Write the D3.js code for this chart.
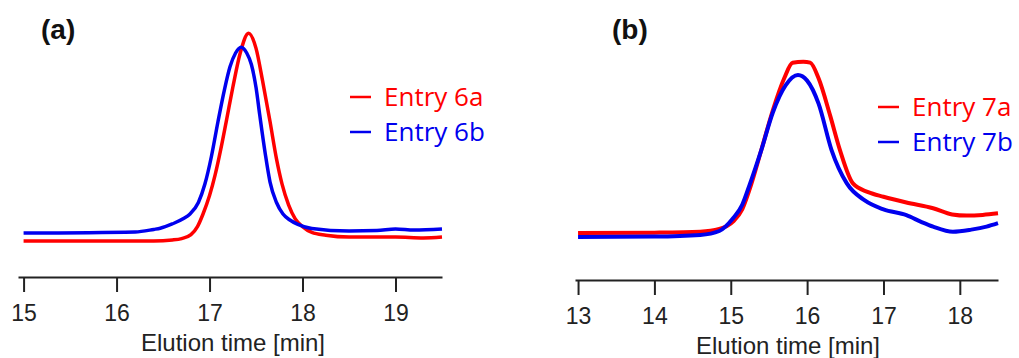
<!DOCTYPE html>
<html>
<head>
<meta charset="utf-8">
<script src="https://cdn.jsdelivr.net/npm/d3@7"></script>
<style>
  body { margin: 0; background: #fff; }
  .tick text { font-family: "Liberation Sans", Arial, sans-serif; }
</style>
</head>
<body>
<div class="chart"></div>
<script>
// elution traces, time [min] and detector signal (arbitrary units)
var t6a = [15.00, 16.40, 16.60, 16.70, 16.80, 16.87, 16.93, 17.00, 17.06, 17.12, 17.18, 17.25, 17.33, 17.42, 17.50, 17.57, 17.65, 17.72, 17.78, 17.85, 17.92, 18.00, 18.10, 18.25, 18.50, 19.00, 19.30, 19.50]
var v6a = [8.3, 8.3, 8.7, 9.3, 11.0, 14.5, 20.0, 28.0, 37.0, 48.0, 60.3, 75.0, 90.0, 98.6, 92.0, 78.0, 60.3, 44.0, 33.0, 24.0, 18.0, 14.5, 12.0, 10.8, 10.0, 10.0, 9.6, 10.0]

var t6b = [15.00, 16.20, 16.40, 16.47, 16.60, 16.72, 16.79, 16.88, 16.95, 17.02, 17.09, 17.16, 17.22, 17.28, 17.34, 17.40, 17.45, 17.50, 17.54, 17.60, 17.65, 17.72, 17.79, 17.86, 17.95, 18.10, 18.50, 18.80, 19.00, 19.20, 19.50]
var v6b = [11.7, 12.2, 13.3, 13.8, 15.7, 18.0, 20.0, 25.0, 33.0, 45.0, 60.0, 74.0, 84.0, 90.0, 92.5, 90.0, 85.0, 75.0, 63.0, 46.0, 34.0, 25.0, 20.0, 17.5, 15.5, 13.7, 12.6, 12.8, 13.5, 13.0, 13.5]

var t7a = [13.00, 14.00, 14.60, 14.85, 15.03, 15.15, 15.25, 15.40, 15.55, 15.70, 15.81, 15.95, 16.04, 16.15, 16.30, 16.43, 16.60, 16.80, 17.00, 17.30, 17.65, 17.90, 18.09, 18.30, 18.50]
var v7a = [11.7, 11.9, 12.3, 13.5, 16.7, 22.0, 31.0, 47.8, 65.0, 79.0, 85.8, 86.2, 85.8, 79.0, 63.0, 47.8, 33.3, 29.5, 27.5, 25.0, 22.5, 19.8, 19.3, 19.6, 20.3]

var t7b = [13.00, 14.00, 14.60, 14.85, 15.03, 15.15, 15.25, 15.40, 15.55, 15.72, 15.88, 16.00, 16.15, 16.32, 16.52, 16.75, 17.00, 17.30, 17.50, 17.65, 17.91, 18.15, 18.35, 18.50]
var v7b = [10.0, 10.2, 10.9, 12.6, 18.1, 24.0, 33.0, 47.8, 64.0, 76.0, 80.4, 78.0, 68.0, 47.8, 33.3, 26.0, 22.0, 19.5, 16.5, 14.5, 12.3, 13.2, 14.5, 16.0]

var ticksA = [15, 16, 17, 18, 19]
var ticksB = [13, 14, 15, 16, 17, 18]

var W = 1019, H = 358
var svg = d3.select(".chart").append("svg")
    .attr("width", W)
    .attr("height", H)

// SHARED SIGNAL SCALE
var y = d3.scaleLinear().domain([0, 100]).range([260, 30])

function zip(ts, vs) { return ts.map(function(t, i){ return {t: t, v: vs[i]} }) }

// ONE PANEL = AXIS + TWO TRACES + LEGEND + LETTER
function panel(opt) {
    var g = svg.append("g")
    var x = d3.scaleLinear().domain(opt.domain).range(opt.range)

    var line = d3.line()
        .x(function(d){ return x(d.t) })
        .y(function(d){ return y(d.v) })
        .curve(d3.curveMonotoneX)

    opt.series.forEach(function(s){
        g.append("path")
            .datum(zip(s.t, s.v))
            .attr("fill", "none")
            .attr("stroke", s.color)
            .attr("stroke-width", opt.sw)
            .attr("stroke-linejoin", "round")
            .attr("d", line)
    })

    var ax = g.append("g")
        .attr("transform", "translate(0," + opt.axisY + ")")
        .call(d3.axisBottom(x).tickValues(opt.ticks).tickSize(15).tickSizeOuter(0).tickPadding(13).tickFormat(d3.format("d")))
    ax.select(".domain").attr("stroke", "#222").attr("stroke-width", 2)
    ax.selectAll(".tick line").attr("stroke", "#222").attr("stroke-width", 2)
    ax.selectAll(".tick text").attr("font-size", 23).attr("fill", "#222")

    g.append("text")
        .attr("x", opt.titleX)
        .attr("y", opt.axisY + 74)
        .attr("text-anchor", "middle")
        .attr("font-family", "Liberation Sans, Arial, sans-serif")
        .attr("font-size", 24)
        .attr("fill", "#222")
        .text("Elution time [min]")

    g.append("text")
        .attr("x", opt.letterX)
        .attr("y", 39)
        .attr("font-family", "Liberation Sans, Arial, sans-serif")
        .attr("font-weight", "bold")
        .attr("font-size", 28)
        .attr("fill", "#111")
        .text(opt.letter)

    opt.series.forEach(function(s, i){
        var ly = opt.legY + i * 35
        g.append("line")
            .attr("x1", opt.legX).attr("x2", opt.legX + 21)
            .attr("y1", ly).attr("y2", ly)
            .attr("stroke", s.color).attr("stroke-width", 2.5)
        g.append("text")
            .attr("x", opt.legX + 34)
            .attr("y", ly + 9)
            .attr("font-family", "Open Sans, Noto Sans, sans-serif")
            .attr("font-size", 26)
            .attr("fill", s.color)
            .text(s.name)
    })
}

panel({
    domain: [14.94, 19.5], range: [18, 442], axisY: 277, ticks: ticksA,
    titleX: 233, letter: "(a)", letterX: 41, legX: 350, legY: 97, sw: 3.5,
    series: [
        {name: "Entry 6a", color: "#ff0000", t: t6a, v: v6a},
        {name: "Entry 6b", color: "#0000ee", t: t6b, v: v6b}
    ]
})

panel({
    domain: [12.96, 18.5], range: [575, 998], axisY: 280, ticks: ticksB,
    titleX: 788, letter: "(b)", letterX: 612, legX: 878, legY: 107, sw: 4,
    series: [
        {name: "Entry 7a", color: "#ff0000", t: t7a, v: v7a},
        {name: "Entry 7b", color: "#0000ee", t: t7b, v: v7b}
    ]
})
</script>
</body>
</html>
